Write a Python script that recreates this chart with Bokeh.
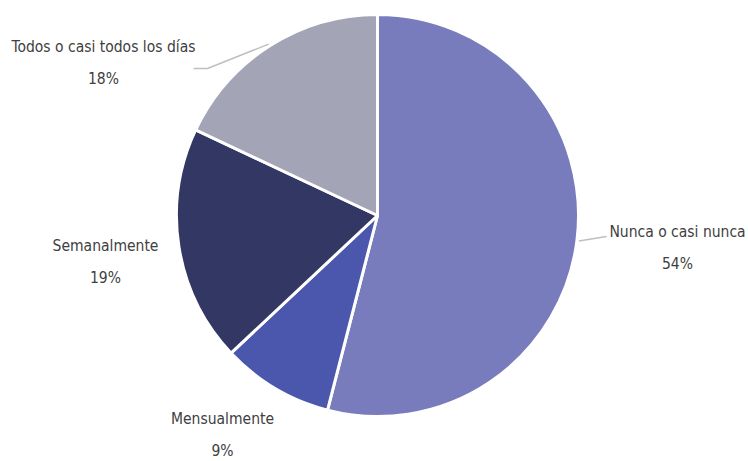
import math
from bokeh.plotting import figure
from bokeh.models import Range1d, ColumnDataSource
from bokeh.core.properties import value
from bokeh.embed import file_html
from bokeh.resources import INLINE

categories = ["Nunca o casi nunca", "Mensualmente", "Semanalmente", "Todos o casi todos los días"]
percents = [54, 9, 19, 18]
colors = ["#797cbc", "#4b56ad", "#323764", "#a3a5b6"]

# layout (picture pixel coords, y measured from top)
W, H = 748, 461
CX, CY, R = 377, 215, 201
label_pos = {  # text centre x, first line y
    "Nunca o casi nunca": (677, 231),
    "Mensualmente": (222, 418),
    "Semanalmente": (105, 245),
    "Todos o casi todos los días": (103, 46),
}
leader = {  # elbow and end point of leader line
    "Nunca o casi nunca": [(606, 236)],
    "Todos o casi todos los días": [(207, 68), (193, 68)],
}

def Y(y):
    return H - y

p = figure(width=W, height=H, output_backend="svg", toolbar_location=None,
           x_range=Range1d(0, W), y_range=Range1d(0, H),
           min_border=0, outline_line_color=None)
p.axis.visible = False
p.grid.visible = False

total = sum(percents)
starts, ends = [], []
cum = 0
for v in percents:
    a0 = math.pi / 2 - 2 * math.pi * cum / total
    cum += v
    a1 = math.pi / 2 - 2 * math.pi * cum / total
    starts.append(a0)
    ends.append(a1)

src = ColumnDataSource(dict(start=starts, end=ends, color=colors, cat=categories))
p.wedge(x=CX, y=Y(CY), radius=R, start_angle="start", end_angle="end",
        direction="clock", fill_color="color", line_color="white", line_width=3,
        source=src)

font = value("'DejaVu Sans Condensed', 'Liberation Sans Narrow', sans-serif")
for cat, v, a0, a1 in zip(categories, percents, starts, ends):
    tx, ty = label_pos[cat]
    p.text(x=[tx, tx], y=[Y(ty), Y(ty + 32)], text=[cat, f"{v}%"],
           text_font=font, text_font_size="15.5px", text_color="#404040",
           text_align="center", text_baseline="middle")
    if cat in leader:
        mid = (a0 + a1) / 2
        sx = CX + (R + 2) * math.cos(mid)
        sy = CY - (R + 2) * math.sin(mid)
        pts = [(sx, sy)] + leader[cat]
        p.line(x=[q[0] for q in pts], y=[Y(q[1]) for q in pts],
               line_color="#bfbfbf", line_width=1.5)

open("out.html", "w").write(file_html(p, INLINE))
